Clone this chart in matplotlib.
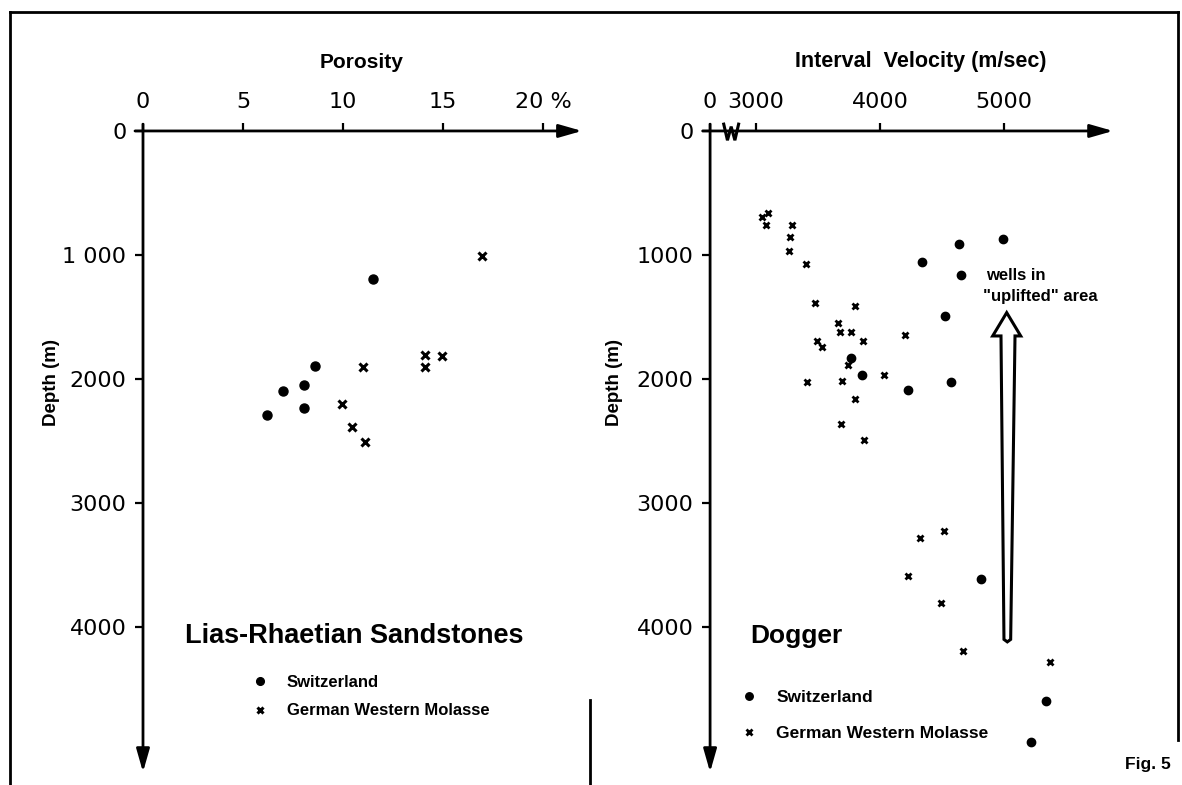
import matplotlib
matplotlib.use("Agg")
import matplotlib.pyplot as plt
from matplotlib.patches import Polygon

# Lias-Rhaetian Sandstones: porosity (%) vs depth (m)
lias_swiss_por = [11.5, 8.6, 8.05, 7.0, 8.05, 6.2]
lias_swiss_depth = [1195, 1895, 2045, 2100, 2235, 2290]
lias_german_por = [16.95, 11.0, 14.1, 14.95, 14.1, 9.95, 10.45, 11.1]
lias_german_depth = [1010, 1905, 1810, 1815, 1905, 2200, 2390, 2510]

# Dogger: interval velocity (m/sec) vs depth (m)
dog_swiss_vel = [4635, 4995, 4340, 4650, 4525, 3770, 3855, 4230, 4575, 4815, 5340, 5220]
dog_swiss_depth = [910, 875, 1060, 1165, 1490, 1830, 1965, 2085, 2025, 3610, 4600, 4930]
dog_german_vel = [3045, 3100, 3080, 3290, 3275, 3270, 3400, 3480, 3795, 3660, 3675,
                  3765, 3865, 3490, 3530, 4205, 3745, 4030, 3415, 3695, 3795, 3685,
                  3875, 4325, 4520, 4230, 4490, 4670, 5375]
dog_german_depth = [690, 660, 760, 760, 855, 965, 1075, 1390, 1410, 1545, 1625,
                    1625, 1690, 1695, 1745, 1645, 1885, 1970, 2025, 2020, 2165, 2365,
                    2490, 3285, 3225, 3585, 3810, 4195, 4280]

por_ticks = [0, 5, 10, 15, 20]
por_labels = ["0", "5", "10", "15", "20 %"]
vel_break = 2630          # where the broken velocity axis starts ("0")
vel_ticks = [vel_break, 3000, 4000, 5000]
vel_labels = ["0", "3000", "4000", "5000"]
depth_ticks = [0, 1000, 2000, 3000, 4000]
depth_labels_left = ["0", "1 000", "2000", "3000", "4000"]
depth_labels_right = ["0", "1000", "2000", "3000", "4000"]

W, H = 1182, 785
fig = plt.figure(figsize=(W / 100, H / 100), dpi=100)
fig.patch.set_facecolor("white")


def box(x0, y0, x1, y1):
    return [x0 / W, 1 - y1 / H, (x1 - x0) / W, (y1 - y0) / H]


ax1 = fig.add_axes(box(120, 110, 590, 785))
ax2 = fig.add_axes(box(690, 110, 1140, 785))
ax1.set_xlim(-1.15, 22.35)
ax2.set_xlim(2468, 6097)

NUM_FONT = "DejaVu Sans"
BOLD_FONT = "Liberation Sans"

for ax in (ax1, ax2):
    ax.set_ylim(5274, -169)
    ax.patch.set_visible(False)
    for s in ax.spines.values():
        s.set_visible(False)
    ax.xaxis.tick_top()
    ax.spines["top"].set_position(("data", 0))
    ax.tick_params(axis="both", direction="out", length=6, width=1.6)
    ax.tick_params(axis="x", pad=8)
    ax.tick_params(axis="y", pad=6)

ax1.spines["left"].set_position(("data", 0))
ax2.spines["left"].set_position(("data", vel_break))

ax1.set_xticks(por_ticks, por_labels, fontsize=16, family=NUM_FONT)
ax1.set_yticks(depth_ticks, depth_labels_left, fontsize=16, family=NUM_FONT)
ax2.set_xticks(vel_ticks, vel_labels, fontsize=16, family=NUM_FONT)
ax2.set_yticks(depth_ticks, depth_labels_right, fontsize=16, family=NUM_FONT)

arrow = dict(arrowstyle="-|>,head_length=0.7,head_width=0.2", lw=2, color="k",
             mutation_scale=20, shrinkA=0, shrinkB=0)
# axis lines with arrow heads
ax1.annotate("", xy=(21.95, 0), xytext=(-0.4, 0), arrowprops=arrow)
ax1.annotate("", xy=(0, 5170), xytext=(0, -55), arrowprops=arrow)
ax2.annotate("", xy=(5880, 0), xytext=(vel_break - 60, 0), arrowprops=arrow)
ax2.annotate("", xy=(vel_break, 5170), xytext=(vel_break, -55), arrowprops=arrow)

# axis break mark
ax2.plot([2740, 2770, 2800, 2830, 2860], [-55, 75, -35, 75, -55], color="k", lw=2.2,
         solid_joinstyle="miter")

dot = dict(marker="o", color="k", linestyle="none")
cross = dict(marker="x", color="k", linestyle="none")

ax1.plot(lias_swiss_por, lias_swiss_depth, markersize=6.5, label="Switzerland", **dot)
ax1.plot(lias_german_por, lias_german_depth, markersize=5.5, mew=2.2,
         label="German Western Molasse", **cross)
ax2.plot(dog_swiss_vel, dog_swiss_depth, markersize=6, label="Switzerland", **dot)
ax2.plot(dog_german_vel, dog_german_depth, markersize=5, mew=2.0,
         label="German Western Molasse", **cross)

leg_font = {"family": BOLD_FONT, "weight": "bold", "size": 12}
ax1.legend(loc="upper left", bbox_to_anchor=(252 / W, 1 - 675 / H),
           bbox_transform=fig.transFigure, frameon=False, prop=leg_font,
           handlelength=1, handletextpad=1.1, labelspacing=0.8, borderpad=0,
           borderaxespad=0, markerscale=0.85)
leg_font2 = dict(leg_font, size=12.5)
ax2.legend(loc="upper left", bbox_to_anchor=(740 / W, 1 - 690 / H),
           bbox_transform=fig.transFigure, frameon=False, prop=leg_font2,
           handlelength=1, handletextpad=1.1, labelspacing=1.2, borderpad=0,
           borderaxespad=0, markerscale=0.9)

# hollow arrow for the uplifted wells
uplift_arrow = [(5022, 1465), (5135, 1653), (5089, 1653), (5054, 4100), (5027, 4120),
                (5000, 4100), (4976, 1653), (4909, 1653)]
ax2.add_patch(Polygon(uplift_arrow, closed=True, facecolor="white", edgecolor="k",
                      lw=2.2, joinstyle="miter"))

bold = dict(family=BOLD_FONT, weight="bold", color="k")
fig.text(362 / W, 1 - 62 / H, "Porosity", ha="center", va="center", fontsize=15, **bold)
fig.text(921 / W, 1 - 62 / H, "Interval  Velocity (m/sec)", ha="center", va="center",
         fontsize=15.5, **bold)
fig.text(52 / W, 1 - 382 / H, "Depth (m)", ha="center", va="center", rotation=90,
         fontsize=13.5, **bold)
fig.text(615 / W, 1 - 382 / H, "Depth (m)", ha="center", va="center", rotation=90,
         fontsize=13.5, **bold)
fig.text(185 / W, 1 - 636 / H, "Lias-Rhaetian Sandstones", ha="left", va="center",
         fontsize=19.5, **bold)
fig.text(750 / W, 1 - 636 / H, "Dogger", ha="left", va="center", fontsize=19, **bold)
fig.text(986 / W, 1 - 276 / H, "wells in", ha="left", va="center", fontsize=12, **bold)
fig.text(983 / W, 1 - 297 / H, "\"uplifted\" area", ha="left", va="center",
         fontsize=12, **bold)
fig.text(1125 / W, 1 - 765 / H, "Fig. 5", ha="left", va="center", fontsize=12.5, **bold)

# frame of the figure plate
frame = dict(color="k", lw=2, transform=fig.transFigure)
fig.add_artist(plt.Line2D([10 / W, 10 / W], [0, 1 - 12 / H], **frame))
fig.add_artist(plt.Line2D([10 / W, 1178 / W], [1 - 12 / H, 1 - 12 / H], **frame))
fig.add_artist(plt.Line2D([1178 / W, 1178 / W], [1 - 12 / H, 1 - 740 / H], **frame))
fig.add_artist(plt.Line2D([590 / W, 590 / W], [0, 1 - 700 / H], **frame))

fig.savefig("out.png", dpi=100)
